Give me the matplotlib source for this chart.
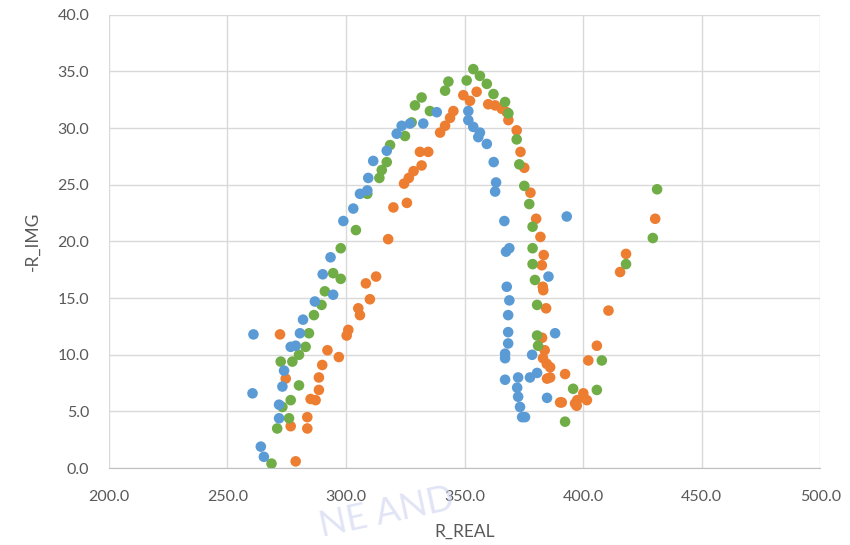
import matplotlib.pyplot as plt

plt.rcParams['font.family'] = ['Lato', 'DejaVu Sans']

# series (R_REAL, -R_IMG)
blue_x = [261.0, 260.6, 264.1, 265.4, 271.8, 271.8, 273.2, 273.9, 276.7, 278.8,
          280.6, 281.9, 286.9, 290.2, 293.5, 294.6, 298.9, 303.1, 305.9, 309.0,
          309.4, 311.5, 317.2, 321.4, 323.5, 327.0, 332.6, 338.3, 351.6, 351.6,
          353.7, 355.8, 356.5, 359.4, 362.3, 363.3, 362.9, 366.8, 367.5, 368.9,
          367.8, 368.9, 368.4, 368.4, 368.4, 367.1, 367.1, 367.1, 372.6, 372.2,
          372.6, 373.4, 374.3, 375.5, 377.6, 380.6, 378.5, 384.8, 388.2, 385.4,
          393.1]
blue_y = [11.8, 6.6, 1.9, 1.0, 4.4, 5.6, 7.2, 8.6, 10.7, 10.8,
          11.9, 13.1, 14.7, 17.1, 18.6, 15.3, 21.8, 22.9, 24.2, 24.5,
          25.6, 27.1, 28.0, 29.5, 30.2, 30.4, 30.4, 31.4, 31.5, 30.7,
          30.1, 29.2, 29.6, 28.6, 27.0, 25.2, 24.4, 21.8, 19.1, 19.4,
          16.0, 14.8, 13.5, 12.0, 11.0, 10.1, 9.7, 7.8, 8.0, 7.1,
          6.3, 5.4, 4.5, 4.5, 8.0, 8.4, 10.0, 6.2, 11.9, 16.9,
          22.2]

orange_x = [272.2, 274.6, 276.7, 278.8, 283.7, 283.7, 285.1, 287.2, 288.6, 288.6,
            290.0, 292.2, 297.0, 300.3, 301.0, 305.2, 305.9, 308.4, 310.1, 312.7,
            317.8, 320.0, 325.7, 324.5, 326.5, 328.5, 331.9, 331.2, 334.7, 339.7,
            341.8, 343.9, 345.3, 349.5, 352.3, 355.1, 360.0, 362.9, 365.7, 367.8,
            368.5, 372.0, 373.6, 375.2, 377.8, 380.2, 382.0, 383.4, 382.6, 383.0,
            384.4, 383.2, 382.7, 383.8, 383.1, 384.7, 386.1, 384.8, 386.1, 392.4,
            390.3, 391.0, 396.6, 397.3, 397.5, 400.1, 401.6, 402.2, 405.8, 410.7,
            415.6, 418.1, 430.4]
orange_y = [11.8, 7.9, 3.7, 0.6, 4.5, 3.5, 6.1, 6.0, 6.9, 8.0,
            9.1, 10.4, 9.8, 11.7, 12.2, 14.1, 13.5, 16.3, 14.9, 16.9,
            20.2, 23.0, 23.4, 25.1, 25.6, 26.2, 26.7, 27.9, 27.9, 29.6,
            30.2, 30.9, 31.5, 32.9, 32.4, 33.2, 32.1, 32.0, 31.7, 31.4,
            30.7, 29.8, 27.9, 26.5, 24.3, 22.0, 20.4, 18.8, 17.9, 16.0,
            14.1, 15.7, 11.5, 10.4, 9.7, 9.2, 8.9, 7.9, 8.0, 8.3,
            5.8, 5.8, 5.7, 5.5, 6.0, 6.6, 6.0, 9.5, 10.8, 13.9,
            17.3, 18.9, 22.0]

green_x = [268.6, 271.0, 273.2, 276.0, 276.7, 280.2, 272.5, 277.4, 280.2, 283.0,
           284.4, 286.5, 289.7, 291.1, 294.6, 297.8, 297.8, 304.2, 309.0, 314.1,
           315.1, 317.2, 318.6, 324.9, 327.7, 329.1, 331.9, 335.4, 341.8, 343.2,
           350.9, 353.7, 356.5, 359.4, 362.2, 367.1, 368.5, 372.0, 373.1, 375.2,
           377.3, 378.7, 378.7, 378.7, 379.7, 380.6, 380.6, 381.0, 395.8, 392.4,
           405.8, 407.9, 418.1, 429.4, 431.2]
green_y = [0.4, 3.5, 5.4, 4.4, 6.0, 7.3, 9.4, 9.4, 10.0, 10.7,
           11.9, 13.5, 14.4, 15.6, 17.2, 16.7, 19.4, 21.0, 24.2, 25.6,
           26.3, 27.0, 28.5, 29.3, 30.5, 32.0, 32.7, 31.5, 33.3, 34.1,
           34.2, 35.2, 34.6, 33.9, 33.0, 32.3, 31.3, 29.0, 26.8, 24.9,
           23.3, 21.3, 19.4, 18.0, 16.6, 14.4, 11.7, 10.8, 7.0, 4.1,
           6.9, 9.5, 18.0, 20.3, 24.6]

x_ticks = [200, 250, 300, 350, 400, 450, 500]
y_ticks = [0, 5, 10, 15, 20, 25, 30, 35, 40]

text_color = '#595959'
grid_color = '#D9D9D9'

fig = plt.figure(figsize=(8.5, 5.45), dpi=100)
ax = fig.add_axes([0.128, 0.141, 0.837, 0.832])

ax.scatter(orange_x, orange_y, s=58, color='#ED7D31', edgecolors='none', zorder=3)
ax.scatter(green_x, green_y, s=58, color='#70AD47', edgecolors='none', zorder=3)
ax.scatter(blue_x, blue_y, s=58, color='#5B9BD5', edgecolors='none', zorder=3)

ax.set_xlim(200, 500)
ax.set_ylim(0, 40)
ax.set_xticks(x_ticks)
ax.set_yticks(y_ticks)
ax.set_xticklabels([f'{v:.1f}' for v in x_ticks])
ax.set_yticklabels([f'{v:.1f}' for v in y_ticks])
ax.tick_params(length=0, labelsize=11.5, colors=text_color, pad=14)
ax.tick_params(axis='x', pad=16)

ax.grid(True, color=grid_color, linewidth=1)
ax.set_axisbelow(True)
for side in ['top', 'right', 'left']:
    ax.spines[side].set_visible(False)
ax.spines['bottom'].set_color('#BFBFBF')

ax.set_xlabel('R_REAL', fontsize=12.5, color=text_color, labelpad=14)
ax.set_ylabel('-R_IMG', fontsize=12.5, color=text_color, labelpad=12)

# faint watermark fragment near the bottom edge
fig.text(0.455, 0.004, 'NE AND', fontsize=26, color='#CDD2EE', alpha=0.6,
         rotation=12, ha='center', va='bottom', zorder=0)

fig.savefig('out.png', dpi=100)
